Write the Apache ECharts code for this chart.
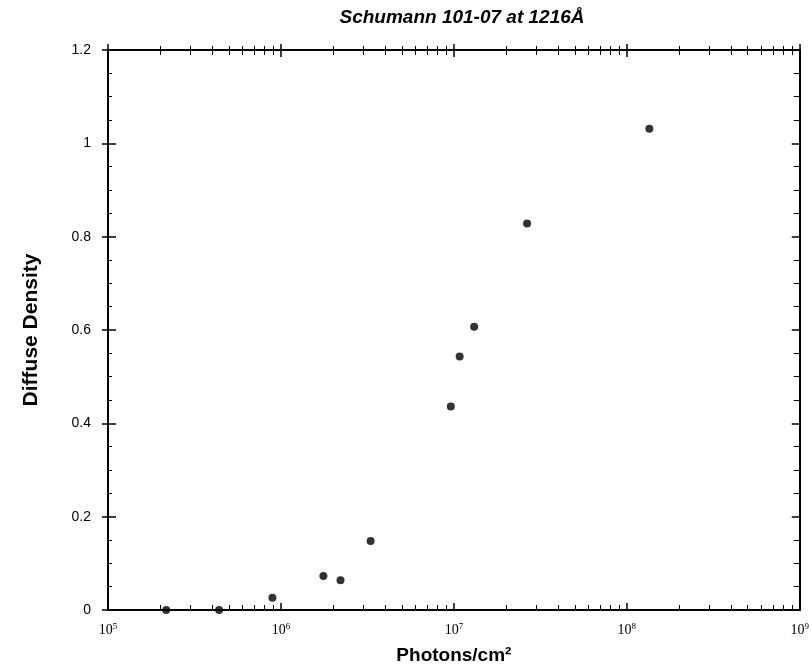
<!DOCTYPE html>
<html>
<head>
<meta charset="utf-8">
<script src="https://cdn.jsdelivr.net/npm/echarts@6/dist/echarts.min.js"></script>
<style>
  html, body { margin: 0; padding: 0; background: #fff; }
  #main { width: 812px; height: 670px; }
</style>
</head>
<body>
<div id="main"></div>
<script>
// photons/cm^2 and measured diffuse density
const photons = [2.17e5, 4.39e5, 8.93e5, 1.76e6, 2.21e6, 3.3e6, 9.6e6, 1.08e7, 1.31e7, 2.65e7, 1.35e8];
const density = [0, 0, 0.026, 0.073, 0.064, 0.148, 0.436, 0.543, 0.607, 0.828, 1.031];
const yTicks = ['0', '0.2', '0.4', '0.6', '0.8', '1', '1.2'];

const points = photons.map((p, i) => [p, density[i]]);

const chart = echarts.init(document.getElementById('main'));

const axisLine = { show: true, onZero: false, lineStyle: { color: '#000', width: 2 } };
const tickStyle = { color: '#000', width: 1.5 };

chart.setOption({
  animation: false,
  backgroundColor: '#fff',
  title: {
    text: 'Schumann 101-07 at 1216Å',
    left: 457,
    top: 3,
    textAlign: 'center',
    textStyle: { fontFamily: 'Liberation Sans', fontStyle: 'italic', fontWeight: 'bold', fontSize: 19, color: '#000' }
  },
  grid: { left: 108, right: 12, top: 50, bottom: 59 },
  xAxis: [
    {
      type: 'log', logBase: 10, min: 1e5, max: 1e9,
      name: 'Photons/cm²', nameLocation: 'middle', nameGap: 36,
      nameTextStyle: { fontFamily: 'Liberation Sans', fontWeight: 'bold', fontSize: 19, color: '#000' },
      axisLine: axisLine,
      axisTick: { inside: true, length: 7, lineStyle: tickStyle },
      minorTick: { show: true, splitNumber: 9, length: 5, lineStyle: { color: '#000' } },
      splitLine: { show: false },
      axisLabel: {
        margin: 12,
        formatter: v => '10{s|' + Math.round(Math.log10(v)) + '}',
        rich: { s: { fontSize: 9, verticalAlign: 'top', padding: [0, 0, 8, 0] } },
        fontFamily: 'Liberation Serif', fontSize: 14, color: '#000'
      }
    },
    {
      type: 'log', logBase: 10, min: 1e5, max: 1e9, position: 'top',
      axisLine: axisLine,
      axisTick: { inside: true, length: 7, lineStyle: tickStyle },
      minorTick: { show: true, splitNumber: 9, length: 5, lineStyle: { color: '#000' } },
      splitLine: { show: false },
      axisLabel: { show: false }
    },
    {
      // outer half of the crossing ticks on top
      type: 'log', logBase: 10, min: 1e5, max: 1e9, position: 'top',
      axisLine: { show: false, onZero: false },
      axisTick: { inside: false, length: 6, lineStyle: tickStyle },
      minorTick: { show: true, splitNumber: 9, length: 4, lineStyle: { color: '#000' } },
      splitLine: { show: false },
      axisLabel: { show: false }
    }
  ],
  yAxis: [
    {
      type: 'value', min: 0, max: 1.2, interval: 0.2,
      name: 'Diffuse Density', nameLocation: 'middle', nameGap: 66,
      nameTextStyle: { fontFamily: 'Liberation Sans', fontWeight: 'bold', fontSize: 21, color: '#000' },
      axisLine: axisLine,
      axisTick: { inside: true, length: 8, lineStyle: tickStyle },
      minorTick: { show: true, splitNumber: 4, length: 4, lineStyle: { color: '#000' } },
      splitLine: { show: false },
      axisLabel: {
        margin: 17,
        formatter: (v, i) => yTicks[i],
        fontFamily: 'Liberation Sans', fontSize: 14, color: '#000'
      }
    },
    {
      type: 'value', min: 0, max: 1.2, interval: 0.2, position: 'right',
      axisLine: axisLine,
      axisTick: { inside: true, length: 8, lineStyle: tickStyle },
      minorTick: { show: true, splitNumber: 4, length: 6, lineStyle: { color: '#000' } },
      splitLine: { show: false },
      axisLabel: { show: false }
    },
    {
      // outer half of the crossing ticks on the left
      type: 'value', min: 0, max: 1.2, interval: 0.2, position: 'left',
      axisLine: { show: false, onZero: false },
      axisTick: { inside: false, length: 6, lineStyle: tickStyle },
      splitLine: { show: false },
      axisLabel: { show: false }
    }
  ],
  series: [
    {
      type: 'scatter',
      data: points,
      symbol: 'circle',
      symbolSize: 8,
      itemStyle: { color: '#000' }
    }
  ]
});
</script>
</body>
</html>
